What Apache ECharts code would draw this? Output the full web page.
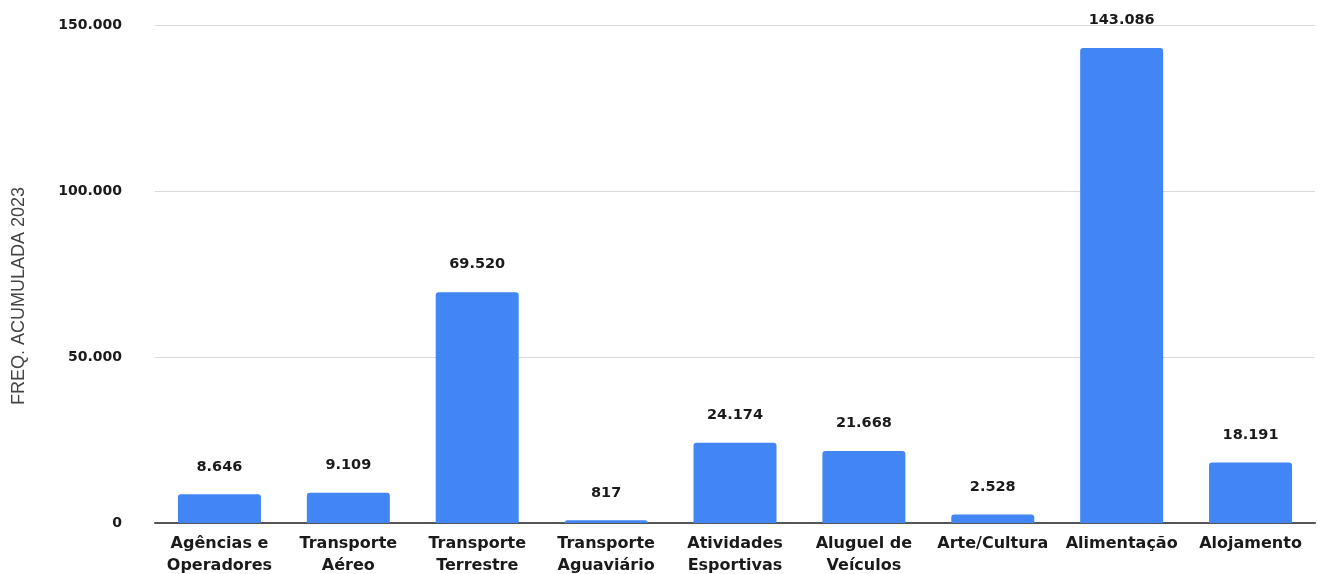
<!DOCTYPE html>
<html>
<head>
<meta charset="utf-8">
<script src="https://cdn.jsdelivr.net/npm/echarts@6/dist/echarts.min.js"></script>
<style>
  html, body { margin: 0; padding: 0; background: #fff; }
  #chart { width: 1326px; height: 574px; }
</style>
</head>
<body>
<div id="chart"></div>
<script>
// categories and accumulated frequency 2023
const categories = [
  "Agências e\nOperadores", "Transporte\nAéreo", "Transporte\nTerrestre",
  "Transporte\nAguaviário", "Atividades\nEsportivas", "Aluguel de\nVeículos",
  "Arte/Cultura", "Alimentação", "Alojamento"
];
const values = [8646, 9109, 69520, 817, 24174, 21668, 2528, 143086, 18191];
const yTicks = [0, 50000, 100000, 150000];

// pt-BR thousands separator
const fmt = (v) => String(v).replace(/\B(?=(\d{3})+(?!\d))/g, ".");

const chart = echarts.init(document.getElementById("chart"));

chart.setOption({
  animation: false,
  grid: { left: 155, right: 11, top: 25, bottom: 51, outerBoundsMode: "none" },
  xAxis: {
    type: "category",
    data: categories,
    axisTick: { show: false },
    axisLine: { lineStyle: { color: "#555", width: 2 } },
    axisLabel: {
      interval: 0,
      margin: 10,
      color: "#1a1a1a",
      fontFamily: "DejaVu Sans",
      fontWeight: "bold",
      fontSize: 16,
      lineHeight: 22
    }
  },
  yAxis: {
    type: "value",
    min: yTicks[0],
    max: yTicks[yTicks.length - 1],
    interval: 50000,
    name: "FREQ. ACUMULADA 2023",
    nameLocation: "middle",
    nameGap: 127,
    nameRotate: 90,
    nameTextStyle: {
      fontFamily: "Liberation Sans",
      fontSize: 18,
      color: "#444",
      padding: [0, 44, 0, 0]
    },
    axisLine: { show: false },
    axisTick: { show: false },
    splitLine: { lineStyle: { color: "#d9d9d9", width: 1 } },
    axisLabel: {
      margin: 33,
      color: "#1a1a1a",
      fontFamily: "DejaVu Sans",
      fontWeight: "bold",
      fontSize: 14,
      formatter: (v) => fmt(v)
    }
  },
  series: [{
    type: "bar",
    data: values,
    barWidth: 83,
    itemStyle: { color: "#4285F4", borderRadius: [3, 3, 0, 0] },
    label: {
      show: true,
      position: "top",
      distance: 20,
      color: "#1a1a1a",
      fontFamily: "DejaVu Sans",
      fontWeight: "bold",
      fontSize: 14.5,
      formatter: (p) => fmt(p.value)
    }
  }]
});

window.addEventListener("resize", () => chart.resize());
</script>
</body>
</html>
